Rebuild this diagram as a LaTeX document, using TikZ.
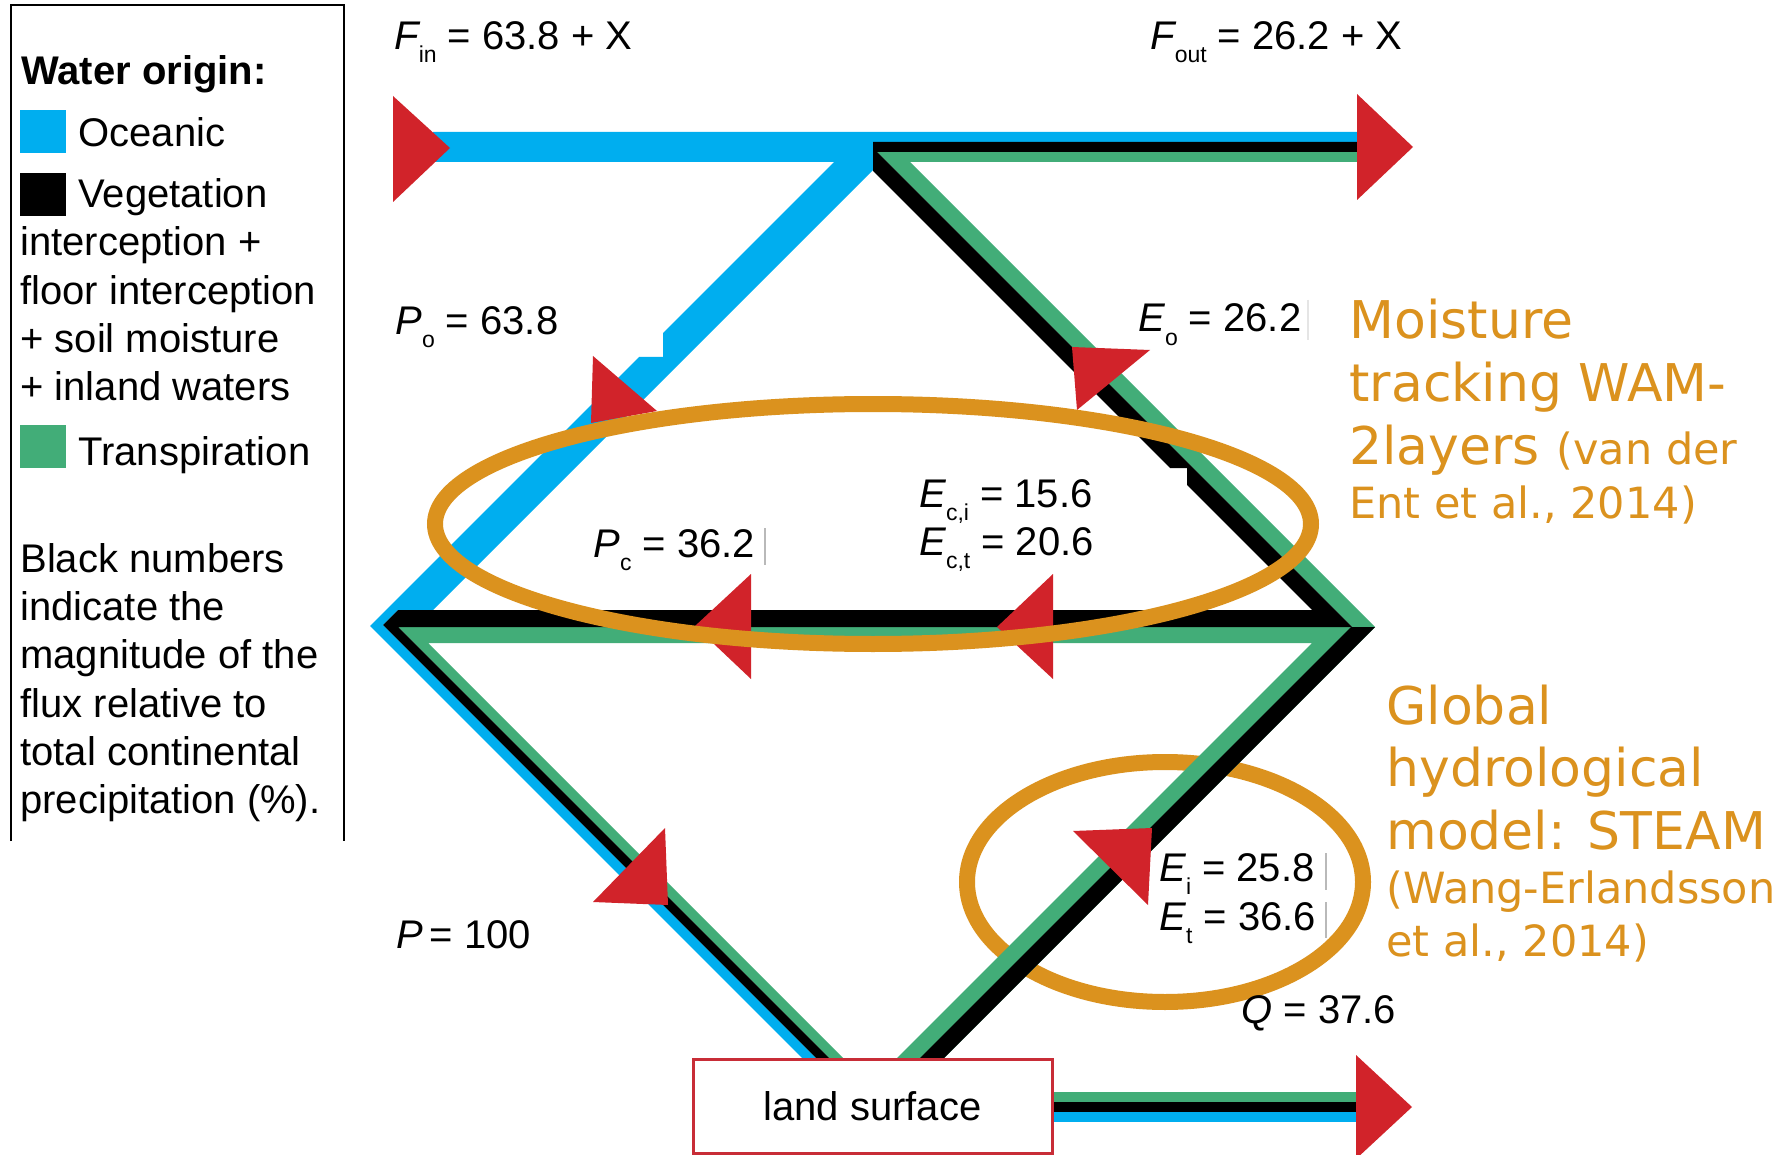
\documentclass[tikz,border=0pt]{standalone}
\usepackage{fontspec}
\setmainfont{Liberation Sans}
\newfontfamily\orgfont{DejaVu Sans}

\definecolor{oceanblue}{RGB}{0,174,239}
\definecolor{transgreen}{RGB}{66,173,120}
\definecolor{arrowred}{RGB}{209,35,42}
\definecolor{wamorange}{RGB}{219,146,30}
\definecolor{boxred}{RGB}{200,45,55}

\newcommand{\lsub}[1]{\raisebox{-6.5pt}{\fontsize{11.5}{12}\selectfont #1}}

\begin{document}
\begin{tikzpicture}[x=0.5pt, y=0.5pt]

\tikzset{
  lbl/.style      = {anchor=base west, inner sep=0pt, font=\fontsize{20}{24}\selectfont},
  legtxt/.style   = {anchor=north west, inner sep=0pt, align=left,
                     font=\fontsize{20}{24.15}\selectfont},
  orgbig/.style   = {anchor=north west, inner sep=0pt, align=left, text=wamorange,
                     font=\orgfont\fontsize{26}{31.4}\selectfont},
  orgsmall/.style = {anchor=north west, inner sep=0pt, align=left, text=wamorange,
                     font=\orgfont\fontsize{21.5}{26.35}\selectfont},
  legline/.style  = {line width=1.4pt, black},
  ring/.style     = {draw=wamorange, line width=8pt},
  tipfill/.style  = {fill=arrowred},
  tickbar/.style  = {gray!55, line width=0.6pt},
  landbox/.style  = {rectangle, draw=boxred, line width=1.5pt, fill=white,
                     minimum width=179.5pt, minimum height=47pt,
                     font=\fontsize{20}{24}\selectfont}
}

\fill[white] (0,0) rectangle (1789,-1155);
\useasboundingbox (0,0) rectangle (1789,-1155);

%% ── Legend ──────────────────────────────────────────────────────
\draw[legline] (11,-841) -- (11,-5) -- (344,-5) -- (344,-841);
\node[lbl, font=\fontsize{20}{24}\selectfont\bfseries] (legtitle) at (21,-85) {Water origin:};
\fill[oceanblue] (20,-110) rectangle (66,-153);
\node[lbl] (legocean) at (78,-147) {Oceanic};
\fill[black] (20,-173) rectangle (66,-216);
\node[lbl] (legveg) at (78,-208) {Vegetation};
\node[legtxt] (legvegmore) at (20,-226.5)
      {interception +\\floor interception\\+ soil moisture\\+ inland waters};
\fill[transgreen] (20,-425) rectangle (66,-468);
\node[lbl] (legtrans) at (78,-465) {Transpiration};
\node[legtxt] (legnote) at (20,-543)
      {Black numbers\\indicate the\\magnitude of the\\flux relative to\\total continental\\precipitation (\%).};

%% ── STEAM ring (under the bands) ────────────────────────────────
\draw[ring] (1165,-882) ellipse [x radius=198, y radius=120];

%% ── Flux bands ──────────────────────────────────────────────────
\fill[oceanblue] (433,-132) -- (1357,-132) -- (1357,-142) -- (873,-142) -- (873,-170)
      -- (433,-610) -- (398,-610) -- (383,-625) -- (817,-1059) -- (803,-1059)
      -- (370,-626) -- (639,-357) -- (663,-357) -- (663,-333) -- (834,-162)
      -- (433,-162) -- cycle;
\fill[transgreen] (877,-152) -- (1357,-152) -- (1357,-162) -- (910,-162) -- (1375,-627)
      -- (943,-1059) -- (896,-1059) -- (1312,-643) -- (428,-643) -- (844,-1059)
      -- (830,-1059) -- (398,-627) -- (1352,-627) -- cycle;
\fill[black] (873,-142) -- (1357,-142) -- (1357,-152) -- (877,-152) -- (1352,-627)
      -- (398,-627) -- (830,-1059) -- (817,-1059) -- (383,-625) -- (398,-610)
      -- (1312,-610) -- (1187,-485) -- (1187,-468) -- (1170,-468) -- (873,-171) -- cycle;
\fill[black] (1375,-627) -- (943,-1059) -- (919,-1059) -- (1351,-627) -- cycle;

%% ── Runoff band ─────────────────────────────────────────────────
\fill[transgreen] (1052,-1092) rectangle (1357,-1102);
\fill[black]      (1052,-1102) rectangle (1357,-1112);
\fill[oceanblue]  (1052,-1112) rectangle (1357,-1122);

%% ── Arrow tips ──────────────────────────────────────────────────
\fill[tipfill] (393,-96) -- (450,-148) -- (393,-202) -- cycle;
\fill[tipfill] (1357,-94) -- (1413,-147) -- (1357,-200) -- cycle;
\fill[tipfill] (1356,-1055) -- (1412,-1107) -- (1356,-1159) -- cycle;
\fill[tipfill] (593,-356) -- (657,-411) -- (591,-423) -- cycle;
\fill[tipfill] (1072,-347) -- (1150,-350) -- (1077,-410) -- cycle;
\fill[tipfill] (695,-626) -- (751,-574) -- (751,-679) -- cycle;
\fill[tipfill] (997,-627) -- (1053,-574) -- (1053,-679) -- cycle;
\fill[tipfill] (668,-905) -- (665,-828) -- (593,-902) -- cycle;
\fill[tipfill] (1152,-828) -- (1073,-831) -- (1148,-905) -- cycle;

%% ── WAM-2layers ring (over the bands) ───────────────────────────
\draw[ring] (873,-524) ellipse [x radius=438, y radius=120];

%% ── Land surface ────────────────────────────────────────────────
\node[landbox] (land) at (872.5,-1106) {land surface};

%% ── Flux labels ─────────────────────────────────────────────────
\node[lbl] (fin)  at (394,-50)   {{\itshape F}\lsub{in} = 63.8 + X};
\node[lbl] (fout) at (1150,-50)  {{\itshape F}\lsub{out} = 26.2 + X};
\node[lbl] (po)   at (395,-335)  {{\itshape P}\lsub{o} = 63.8};
\node[lbl] (eo)   at (1138,-332) {{\itshape E}\lsub{o} = 26.2};
\node[lbl] (pc)   at (593,-557)  {{\itshape P}\lsub{c} = 36.2};
\node[lbl] (eci)  at (919,-507)  {{\itshape E}\lsub{c,i} = 15.6};
\node[lbl] (ect)  at (919,-555)  {{\itshape E}\lsub{c,t} = 20.6};
\node[lbl] (ptot) at (396,-948)  {{\itshape P}\,= 100};
\node[lbl] (ei)   at (1159,-881) {{\itshape E}\lsub{i} = 25.8};
\node[lbl] (et)   at (1159,-930) {{\itshape E}\lsub{t} = 36.6};
\node[lbl] (qout) at (1241,-1023) {{\itshape Q} = 37.6};

\draw[tickbar] (765,-528) -- (765,-565);
\draw[tickbar] (1326,-853) -- (1326,-890);
\draw[tickbar] (1326,-902) -- (1326,-938);
\draw[tickbar, gray!20] (1308,-300) -- (1308,-340);

%% ── Model notes ─────────────────────────────────────────────────
\node[orgbig] (wamtitle) at (1349,-299)
      {Moisture\\tracking WAM-\\2layers {\fontsize{21.5}{26}\selectfont(van der}};
\node[orgsmall] (wamref) at (1349,-485.3) {Ent et al., 2014)};
\node[orgbig] (steamtitle) at (1386,-684.2) {Global\\hydrological\\model: STEAM};
\node[orgsmall] (steamref) at (1386,-870.3) {(Wang-Erlandsson\\et al., 2014)};

\end{tikzpicture}
\end{document}
